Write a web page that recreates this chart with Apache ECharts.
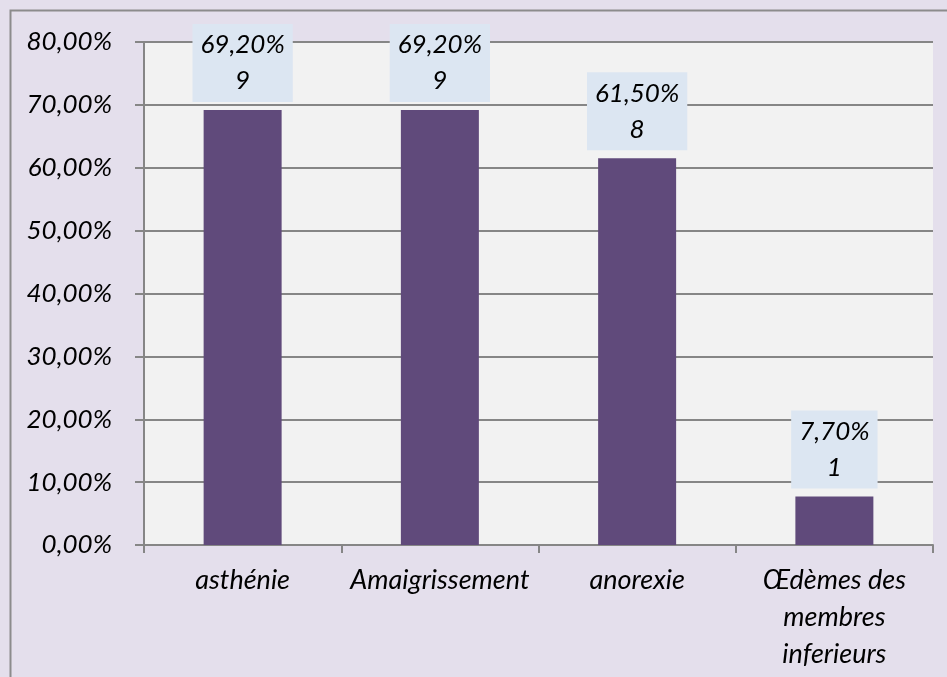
<!DOCTYPE html>
<html>
<head>
<meta charset="utf-8">
<script src="https://cdn.jsdelivr.net/npm/echarts@6/dist/echarts.min.js"></script>
<style>
  html, body { margin: 0; padding: 0; background: #E4DFEC; }
  #chart { width: 947px; height: 677px; }
</style>
</head>
<body>
<div id="chart"></div>
<script>
// Symptom categories, share of patients (%) and patient counts
const categories = ['asthénie', 'Amaigrissement', 'anorexie', 'Œdèmes des\nmembres\ninferieurs'];
const percentages = [69.2, 69.2, 61.5, 7.7];
const counts = [9, 9, 8, 1];

// Y axis range and step (%)
const yMin = 0;
const yMax = 80;
const yStep = 10;

const FONT = 'Lato, "Open Sans", sans-serif';
const frFixed = v => v.toFixed(2).replace('.', ',');

const chart = echarts.init(document.getElementById('chart'), null, { renderer: 'canvas' });

chart.setOption({
  backgroundColor: '#E4DFEC',
  animation: false,
  graphic: [{
    type: 'rect',
    shape: { x: 10.5, y: 10.5, width: 1000, height: 1000 },
    style: { fill: 'none', stroke: '#8C8C8C', lineWidth: 2 },
    silent: true,
    z: -1
  }],
  grid: {
    left: 144, right: 14, top: 42, bottom: 132,
    show: true, backgroundColor: '#F2F2F2', borderWidth: 0
  },
  xAxis: {
    type: 'category',
    data: categories,
    axisLine: { show: true, lineStyle: { color: '#868686', width: 2 } },
    axisTick: { show: true, length: 8, lineStyle: { color: '#868686', width: 2 } },
    axisLabel: {
      fontFamily: FONT, fontStyle: 'italic', fontSize: 27, color: '#000',
      lineHeight: 37, margin: 17, interval: 0
    }
  },
  yAxis: {
    type: 'value',
    min: yMin, max: yMax, interval: yStep,
    axisLine: { show: true, lineStyle: { color: '#868686', width: 2 } },
    axisTick: { show: true, length: 9, lineStyle: { color: '#868686', width: 2 } },
    splitLine: { show: true, lineStyle: { color: '#868686', width: 2 } },
    axisLabel: {
      fontFamily: FONT, fontStyle: 'italic', fontSize: 26, color: '#000',
      margin: 32,
      formatter: v => frFixed(v) + '%'
    }
  },
  series: [{
    type: 'bar',
    data: percentages,
    barWidth: 78,
    itemStyle: { color: '#604A7B' },
    label: {
      show: true,
      position: 'top',
      distance: 8,
      backgroundColor: '#DCE6F2',
      padding: [3, 8, 3, 8],
      fontFamily: FONT, fontStyle: 'italic', fontSize: 26, color: '#000',
      lineHeight: 36,
      formatter: p => frFixed(p.value) + '%\n' + counts[p.dataIndex]
    }
  }]
});
</script>
</body>
</html>
